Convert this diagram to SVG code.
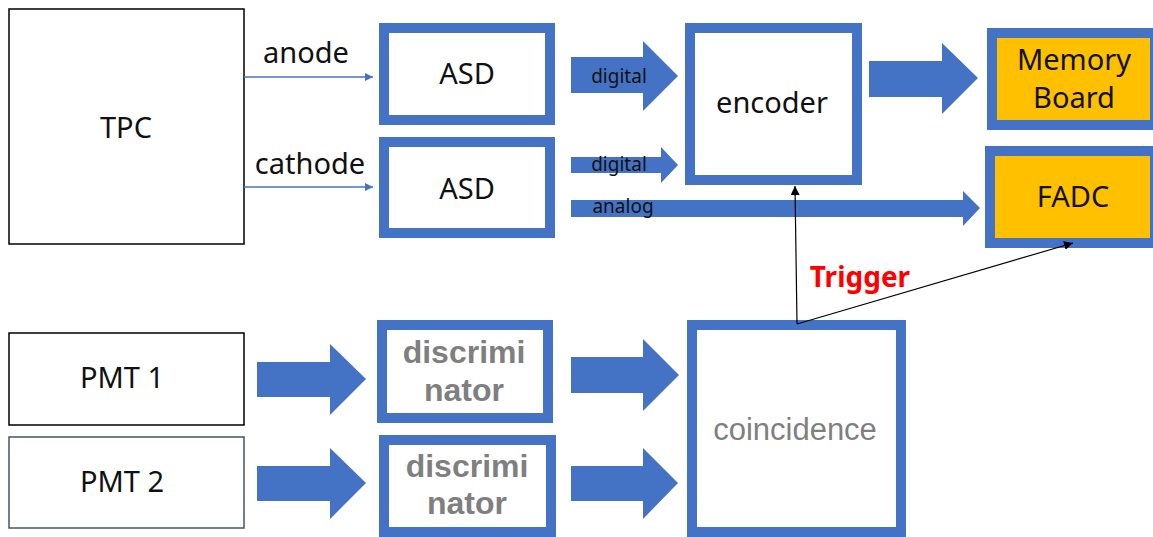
<svg xmlns="http://www.w3.org/2000/svg" width="1153" height="537" viewBox="0 0 1153 537">
<style>
.plain{fill:#fff;stroke:#000;stroke-width:1.5}
.blk{fill:#fff;stroke:#4472C4;stroke-width:10}
.org{fill:#FFC000;stroke:#4472C4;stroke-width:10}
.big{fill:#4472C4}
.t{font-family:"Noto Sans","Open Sans",sans-serif;font-size:29px;fill:#111;text-anchor:middle}
.s{font-family:"Noto Sans","Open Sans",sans-serif;font-size:19px;fill:#111;text-anchor:middle}
.g{font-family:"Liberation Sans",Arial,sans-serif;font-size:31px;fill:#7F7F7F;text-anchor:middle}
.gb{font-weight:bold;font-size:32px}
.thin{stroke:#4472C4;stroke-width:1.5;fill:none}
.trig{stroke:#000;stroke-width:1.2;fill:none}
</style>
<defs>
<marker id="ab" viewBox="0 0 10 10" refX="10" refY="5" markerWidth="9" markerHeight="8" markerUnits="userSpaceOnUse" orient="auto"><path d="M0,0L10,5L0,10z" fill="#4472C4"/></marker>
<marker id="ak" viewBox="0 0 10 10" refX="10" refY="5" markerWidth="9" markerHeight="9" markerUnits="userSpaceOnUse" orient="auto"><path d="M0,0L10,5L0,10z" fill="#000"/></marker>
</defs>
<rect width="1153" height="537" fill="#fff"/>
<g id="tpc"><rect class="plain" x="9" y="9" width="235" height="235"/><text class="t" x="126" y="138">TPC</text></g>
<g id="pmt1"><rect class="plain" x="9" y="333" width="235" height="92"/><text class="t" x="122" y="388">PMT 1</text></g>
<g id="pmt2"><rect x="9" y="437" width="235" height="91" fill="#fff" stroke="#44546A" stroke-width="1.5"/><text class="t" x="122" y="492">PMT 2</text></g>
<g id="asd1"><rect class="blk" x="384" y="28" width="166" height="92"/><text class="t" x="467" y="84">ASD</text></g>
<g id="asd2"><rect class="blk" x="384" y="142" width="166" height="91"/><text class="t" x="467" y="199">ASD</text></g>
<g id="encoder"><rect class="blk" x="690" y="28" width="167" height="152"/><text class="t" x="772" y="113">encoder</text></g>
<g id="memory"><rect class="org" x="992" y="33" width="163" height="92"/><text class="t" x="1074" y="70">Memory</text><text class="t" x="1074" y="108">Board</text></g>
<g id="fadc"><rect class="org" x="990" y="151" width="165" height="92"/><text class="t" x="1073" y="207">FADC</text></g>
<g id="disc1"><rect class="blk" x="382" y="325" width="166" height="93"/><text class="g gb" x="464" y="363">discrimi</text><text class="g gb" x="464" y="401">nator</text></g>
<g id="disc2"><rect class="blk" x="384" y="440" width="167" height="92"/><text class="g gb" x="467" y="477">discrimi</text><text class="g gb" x="467" y="514">nator</text></g>
<g id="coincidence"><rect class="blk" x="692" y="325" width="209" height="207"/><text class="g" x="795" y="440">coincidence</text></g>
<g id="connectors">
<line class="thin" x1="244" y1="77" x2="373" y2="77" marker-end="url(#ab)"/>
<line class="thin" x1="244" y1="187" x2="373" y2="187" marker-end="url(#ab)"/>
<polygon class="big" points="571,57 643,57 643,41 678,76 643,111 643,93 571,93"/>
<polygon class="big" points="571,157 661,157 661,147 678,165 661,183 661,173 571,173"/>
<polygon class="big" points="571,200 963,200 963,191 980,208 963,226 963,217 571,217"/>
<polygon class="big" points="869,61 942,61 942,43 978,78 942,114 942,97 869,97"/>
<polygon class="big" points="257,362 330,362 330,344 366,379 330,415 330,397 257,397"/>
<polygon class="big" points="257,466 330,466 330,448 366,483 330,519 330,501 257,501"/>
<polygon class="big" points="571,357 643,357 643,339 679,375 643,411 643,393 571,393"/>
<polygon class="big" points="571,466 643,466 643,448 678,483 643,519 643,501 571,501"/>
<line class="trig" x1="797" y1="324" x2="795" y2="186" marker-end="url(#ak)"/>
<line class="trig" x1="797" y1="324" x2="1073" y2="243" marker-end="url(#ak)"/>
<text class="s" x="619" y="83">digital</text>
<text class="s" x="619" y="171">digital</text>
<text class="s" x="623" y="213">analog</text>
<text class="t" x="306" y="63">anode</text>
<text class="t" x="310" y="174">cathode</text>
<text x="860" y="287" font-family="'Noto Sans','Open Sans',sans-serif" font-size="28" font-weight="bold" fill="#FF0000" text-anchor="middle">Trigger</text>
</g>
</svg>
